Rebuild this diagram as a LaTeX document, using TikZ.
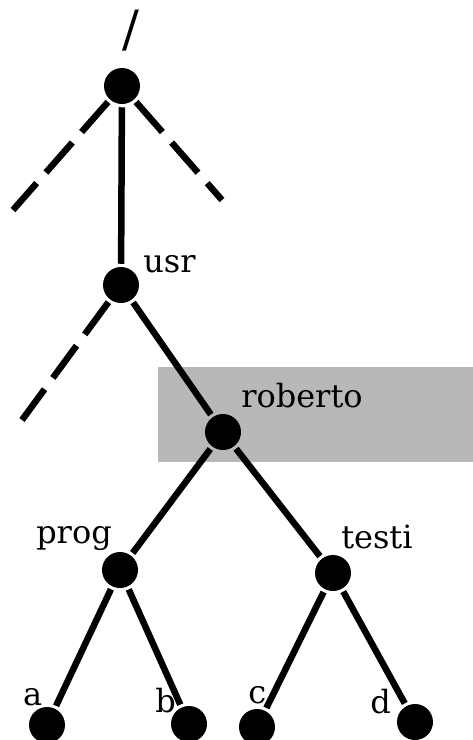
\documentclass[tikz,border=0pt]{standalone}
\usepackage{fontspec}
\setmainfont{DejaVu Serif}
\usetikzlibrary{positioning}

\begin{document}
\begin{tikzpicture}[x=1pt, y=-1pt, line width=6.5pt]
    \tikzstyle{dir}=[
        circle,
        fill = black,
        inner sep = 0pt,
        minimum size = 36pt
    ]
    \tikzstyle{dirname}=[inner sep=0pt, anchor=base west, font=\fontsize{32}{36}\selectfont]
    \tikzstyle{other}=[dash pattern=on 40pt off 14pt]
    \useasboundingbox (0,0) rectangle (473,740);
    % shaded home directory
    \fill[black!28] (158,367) rectangle (473,462);
    \begin{scope}[every node/.style=dir]
      \node (root) at (122,86) {};
      \node (usr) at (121,285) {};
      \node (roberto) at (223,432) {};
      \node (prog) at (120,570) {};
      \node (testi) at (333,573) {};
      \node (a) at (47,725) {};
      \node (b) at (189,724) {};
      \node (c) at (257,727) {};
      \node (d) at (415,722) {};
    \end{scope}
    \node[inner sep=0pt, font=\fontsize{50}{52}\selectfont] (slash) at (131,31) {/};
    \node[dirname] (usrname) at (140,272) {usr};
    \node[dirname] (robertoname) at (238,407) {roberto};
    \node[dirname] (progname) at (33,543) {prog};
    \node[dirname] (testiname) at (338,548) {testi};
    \node[dirname] (aname) at (20,705) {a};
    \node[dirname] (bname) at (152,712) {b};
    \node[dirname] (cname) at (245,703) {c};
    \node[dirname] (dname) at (367,713) {d};
    \coordinate (rootl) at (13,210);
    \coordinate (rootr) at (222,200);
    \coordinate (usrl) at (22,420);
    \path[-] (root) edge (usr)
             (usr) edge (roberto)
             (roberto) edge (prog)
             (roberto) edge (testi)
             (prog) edge (a)
             (prog) edge (b)
             (testi) edge (c)
             (testi) edge (d)
             (root) edge [other] (rootl)
             (root) edge [other] (rootr)
             (usr) edge [other] (usrl);
\end{tikzpicture}
\end{document}
